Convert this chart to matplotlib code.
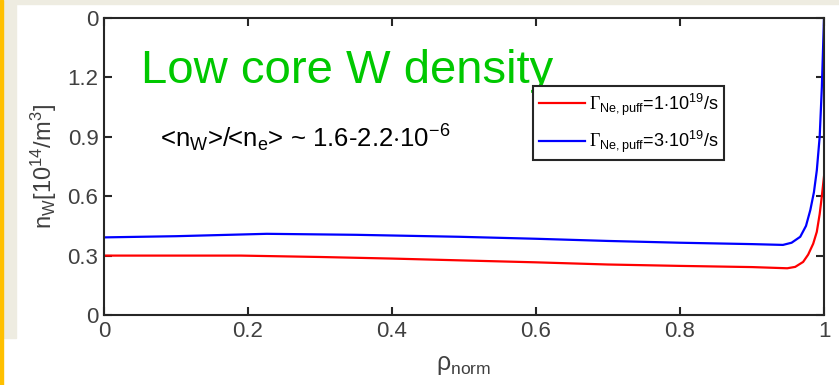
import matplotlib.pyplot as plt
from matplotlib.patches import Rectangle

plt.rcParams['font.family'] = ['Liberation Sans', 'DejaVu Sans']
plt.rcParams['mathtext.fontset'] = 'custom'
plt.rcParams['mathtext.rm'] = 'Liberation Sans'
plt.rcParams['mathtext.it'] = 'Liberation Sans:italic'
plt.rcParams['mathtext.tt'] = 'Liberation Serif'

# data
rho_1e19 = [0, 0.1, 0.19, 0.3, 0.4, 0.494, 0.6, 0.7, 0.8, 0.9, 0.949, 0.96,
            0.971, 0.978, 0.985, 0.99, 0.994, 0.997, 1.0]
nw_1e19 = [0.30, 0.30, 0.30, 0.293, 0.285, 0.276, 0.266, 0.255, 0.248, 0.242,
           0.236, 0.243, 0.268, 0.305, 0.36, 0.42, 0.51, 0.60, 0.70]

rho_3e19 = [0, 0.1, 0.226, 0.35, 0.494, 0.6, 0.7, 0.8, 0.9, 0.943, 0.955,
            0.967, 0.975, 0.981, 0.986, 0.99, 0.994, 0.997, 1.0]
nw_3e19 = [0.392, 0.398, 0.41, 0.405, 0.395, 0.385, 0.374, 0.365, 0.358,
           0.354, 0.365, 0.395, 0.45, 0.53, 0.62, 0.73, 0.90, 1.15, 1.5]

xticks = [0, 0.2, 0.4, 0.6, 0.8, 1]
xticklabels = ['0', '0.2', '0.4', '0.6', '0.8', '1']
yticks = [0, 0.3, 0.6, 0.9, 1.2, 1.5]
yticklabels = ['0', '0.3', '0.6', '0.9', '1.2', '0']

lab_1e19 = r'$\mathtt{\Gamma}_{\rm Ne,puff}$=1$\cdot$10$^{19}$/s'
lab_3e19 = r'$\mathtt{\Gamma}_{\rm Ne,puff}$=3$\cdot$10$^{19}$/s'

W, H = 839, 385
fig = plt.figure(figsize=(W / 100, H / 100), dpi=100)
fig.patch.set_facecolor('white')

# slide background bits
fig.add_artist(Rectangle((0, 1 - 4 / H), 1, 4 / H, transform=fig.transFigure,
                         color='#eeece1', zorder=0))
fig.add_artist(Rectangle((0, 1 - 338 / H), 16 / W, 338 / H, transform=fig.transFigure,
                         color='#eeece1', zorder=0))
fig.add_artist(Rectangle((0, 0), 3 / W, 1, transform=fig.transFigure,
                         color='#ffc000', zorder=1))

ax = fig.add_axes([104 / W, 1 - 315 / H, 720 / W, 297 / H])

ax.plot(rho_1e19, nw_1e19, color='#ff0000', lw=1.6, label=lab_1e19)
ax.plot(rho_3e19, nw_3e19, color='#0000ff', lw=1.6, label=lab_3e19)

ax.set_xlim(0, 1)
ax.set_ylim(0, 1.5)
ax.set_xticks(xticks)
ax.set_xticklabels(xticklabels)
ax.set_yticks(yticks)
ax.set_yticklabels(yticklabels)

dark = '#262626'
for s in ax.spines.values():
    s.set_color(dark)
    s.set_linewidth(1.5)
ax.tick_params(direction='in', length=6, width=1.5, color=dark, labelcolor='#404040',
               labelsize=16, top=True, right=True, pad=4)

ax.set_xlabel(r'$\mathrm{\rho}_{\rm norm}$', fontsize=18, color='#404040', labelpad=8)
ax.set_ylabel(r'n$_{\rm W}$[10$^{14}$/m$^3$]', fontsize=17, color='#404040', labelpad=6)

ax.text(0.052, 1.17, 'Low core W density', color='#00c800', fontsize=34,
        va='baseline', ha='left')
ax.text(0.078, 0.845, r'<n$_{\rm W}$>/<n$_{\rm e}$> ~ 1.6-2.2$\cdot$10$^{-6}$',
        fontsize=18.5, color='black', va='baseline', ha='left')

leg = ax.legend(loc='upper left', bbox_to_anchor=(0.596, 0.771), fontsize=13,
                frameon=True, fancybox=False, framealpha=1, edgecolor=dark,
                handlelength=2.6, borderpad=0.3, labelspacing=0.6,
                handletextpad=0.2, borderaxespad=0)
leg.get_frame().set_linewidth(1.5)

fig.savefig('out.png', dpi=100)
